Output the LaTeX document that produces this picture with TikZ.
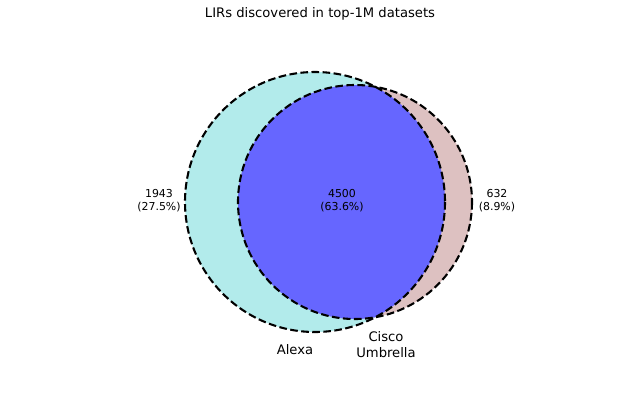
\documentclass[tikz,border=0pt]{standalone}
\usepackage{fontspec}
\setmainfont{DejaVu Sans}
\definecolor{alexafill}{HTML}{B2EBEB}
\definecolor{ciscofill}{HTML}{DDC1C1}
\definecolor{bothfill}{HTML}{6666FF}

\begin{document}
\begin{tikzpicture}[x=0.01in, y=-0.01in,
    every node/.style={
        inner sep=0pt,
        align=center},
    outline/.style={draw=black, line width=1.5pt, dash pattern=on 5.5pt off 2.5pt},
    subset/.style={font=\fontsize{7.9}{9.4}\selectfont},
    setname/.style={font=\fontsize{9.5}{11.5}\selectfont}]

    \useasboundingbox (0,0) rectangle (640,400);

    % the two sets
    \fill[alexafill] (315,202) circle [radius=130];
    \fill[ciscofill] (355,202) circle [radius=117];
    \begin{scope}
        \clip (315,202) circle [radius=130];
        \fill[bothfill] (355,202) circle [radius=117];
    \end{scope}
    \draw[outline] (315,202) circle [radius=130];
    \draw[outline] (355,202) circle [radius=117];

    \node[font=\fontsize{9.5}{11.5}\selectfont] (title) at (320,14) {LIRs discovered in top-1M datasets};

    \node[subset] (onlyA) at (159,201) {1943\\(27.5\%)};
    \node[subset] (both)  at (342,201) {4500\\(63.6\%)};
    \node[subset] (onlyC) at (497,201) {632\\(8.9\%)};

    \node[setname] (alexa) at (295,350) {Alexa};
    \node[setname] (cisco) at (386,345) {Cisco\\Umbrella};
\end{tikzpicture}
\end{document}
